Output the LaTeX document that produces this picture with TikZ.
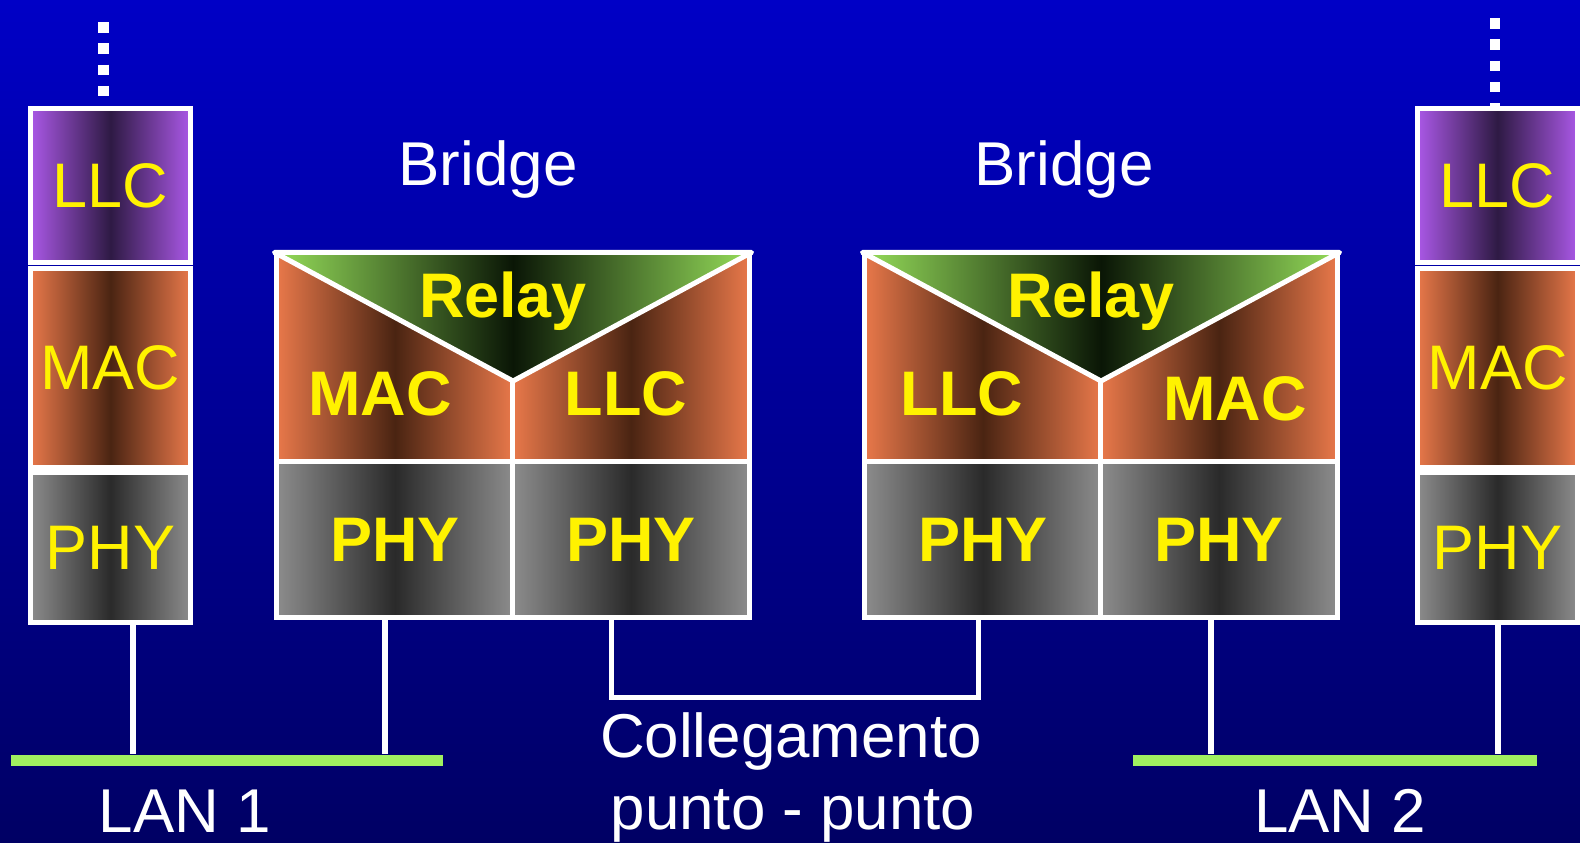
\documentclass[tikz,border=0pt]{standalone}
\usepackage{fontspec}
\setmainfont{Liberation Sans}
\definecolor{bgtop}{RGB}{0,0,198}
\definecolor{bgbot}{RGB}{0,0,100}
\definecolor{llcside}{RGB}{170,88,230}
\definecolor{llcmid}{RGB}{46,26,68}
\definecolor{macside}{RGB}{232,120,74}
\definecolor{macmid}{RGB}{74,36,18}
\definecolor{physide}{RGB}{140,140,140}
\definecolor{phymid}{RGB}{42,42,42}
\definecolor{relayside}{RGB}{150,222,90}
\definecolor{relaymid}{RGB}{10,22,6}
\definecolor{langreen}{RGB}{160,240,96}
\tikzset{
  layer/.style={draw=white,line width=0.05cm,inner sep=0pt,minimum width=1.6cm,
    text=yellow,font=\fontsize{17.9}{21}\selectfont,
    left color=#1side,right color=#1side,middle color=#1mid},
  blayer/.style={layer=#1,minimum width=2.36cm,font=\bfseries\fontsize{17.9}{21}\selectfont},
  relay/.style={draw=white,line width=0.05cm,line join=round,
    left color=relayside,right color=relayside,middle color=relaymid},
  btxt/.style={anchor=base,inner sep=0pt,text=yellow,font=\bfseries\fontsize{17.9}{21}\selectfont},
  title/.style={anchor=base,inner sep=0pt,text=white,font=\fontsize{17.6}{21}\selectfont},
  stackup/.style={draw=white,line width=0.105cm,dash pattern=on 0.105cm off 0.108cm},
  wire/.style={draw=white,line width=0.06cm},
  lan/.style={fill=langreen,minimum height=0.11cm,inner sep=0pt}
}
\begin{document}
\begin{tikzpicture}[x=0.01cm,y=-0.01cm]
\useasboundingbox (0,0) rectangle (1580,842);
\shade[top color=bgtop,bottom color=bgbot] (0,0) rectangle (1580,842);

% end stations
\foreach \s/\x/\dx/\dy in {sA/110.5/103.5/22,sB/1497.5/1495/18}{
  \node[layer=llc,minimum height=1.54cm] (\s-llc) at (\x,185.5) {LLC};
  \node[layer=mac,minimum height=1.99cm] (\s-mac) at (\x,368) {MAC};
  \node[layer=phy,minimum height=1.5cm] (\s-phy) at (\x,547.5) {PHY};
  \coordinate (\s-up) at (\dx,\dy);
  \draw[stackup] (\s-up) -- (\s-up |- \s-llc.north);
}

% bridge A
\node[title] (bA-title) at (488,185) {Bridge};
\node[blayer=mac,minimum height=2.07cm] (bA-left) at (395,358.5) {};
\node[blayer=mac,minimum height=2.07cm] (bA-right) at (631,358.5) {};
\node[blayer=phy,minimum height=1.55cm] (bA-phyL) at (395,539.5) {PHY};
\node[blayer=phy,minimum height=1.55cm] (bA-phyR) at (631,539.5) {PHY};
\coordinate (bA-apex) at (513,381);
\path[relay] (bA-left.north west) -- (bA-right.north east) -- (bA-apex) -- cycle;
\node[btxt] (bA-relay) at (503,317) {Relay};
\node[btxt] (bA-mac) at (380,415) {MAC};
\node[btxt] (bA-llc) at (626,415) {LLC};

% bridge B
\node[title] (bB-title) at (1064,185) {Bridge};
\node[blayer=mac,minimum height=2.07cm] (bB-left) at (983,358.5) {};
\node[blayer=mac,minimum height=2.07cm] (bB-right) at (1219,358.5) {};
\node[blayer=phy,minimum height=1.55cm] (bB-phyL) at (983,539.5) {PHY};
\node[blayer=phy,minimum height=1.55cm] (bB-phyR) at (1219,539.5) {PHY};
\coordinate (bB-apex) at (1101,381);
\path[relay] (bB-left.north west) -- (bB-right.north east) -- (bB-apex) -- cycle;
\node[btxt] (bB-relay) at (1091,317) {Relay};
\node[btxt] (bB-llc) at (962,415) {LLC};
\node[btxt] (bB-mac) at (1235,420) {MAC};

% LANs
\node[lan,minimum width=4.32cm] (lan1) at (227,760.5) {};
\node[lan,minimum width=4.04cm] (lan2) at (1335,760.5) {};
\node[title] (lan1-txt) at (185,832) {LAN 1};
\node[title] (lan2-txt) at (1340,832) {LAN 2};

\draw[wire] ([xshift=0.225cm]sA-phy.south) coordinate (tA) -- (tA |- lan1.north);
\draw[wire] ([xshift=-0.1cm]bA-phyL.south) coordinate (tB) -- (tB |- lan1.north);
\draw[wire] ([xshift=-0.08cm]bB-phyR.south) coordinate (tC) -- (tC |- lan2.north);
\draw[wire] (sB-phy.south) coordinate (tD) -- (tD |- lan2.north);

% point to point link
\draw[wire,line width=0.05cm] ([xshift=-0.2cm]bA-phyR.south) -- ++(0,78) -| ([xshift=-0.05cm]bB-phyL.south);
\node[title] (p2p-top) at (791,757) {Collegamento};
\node[title] (p2p-bot) at (793,829) {punto - punto};
\end{tikzpicture}
\end{document}
